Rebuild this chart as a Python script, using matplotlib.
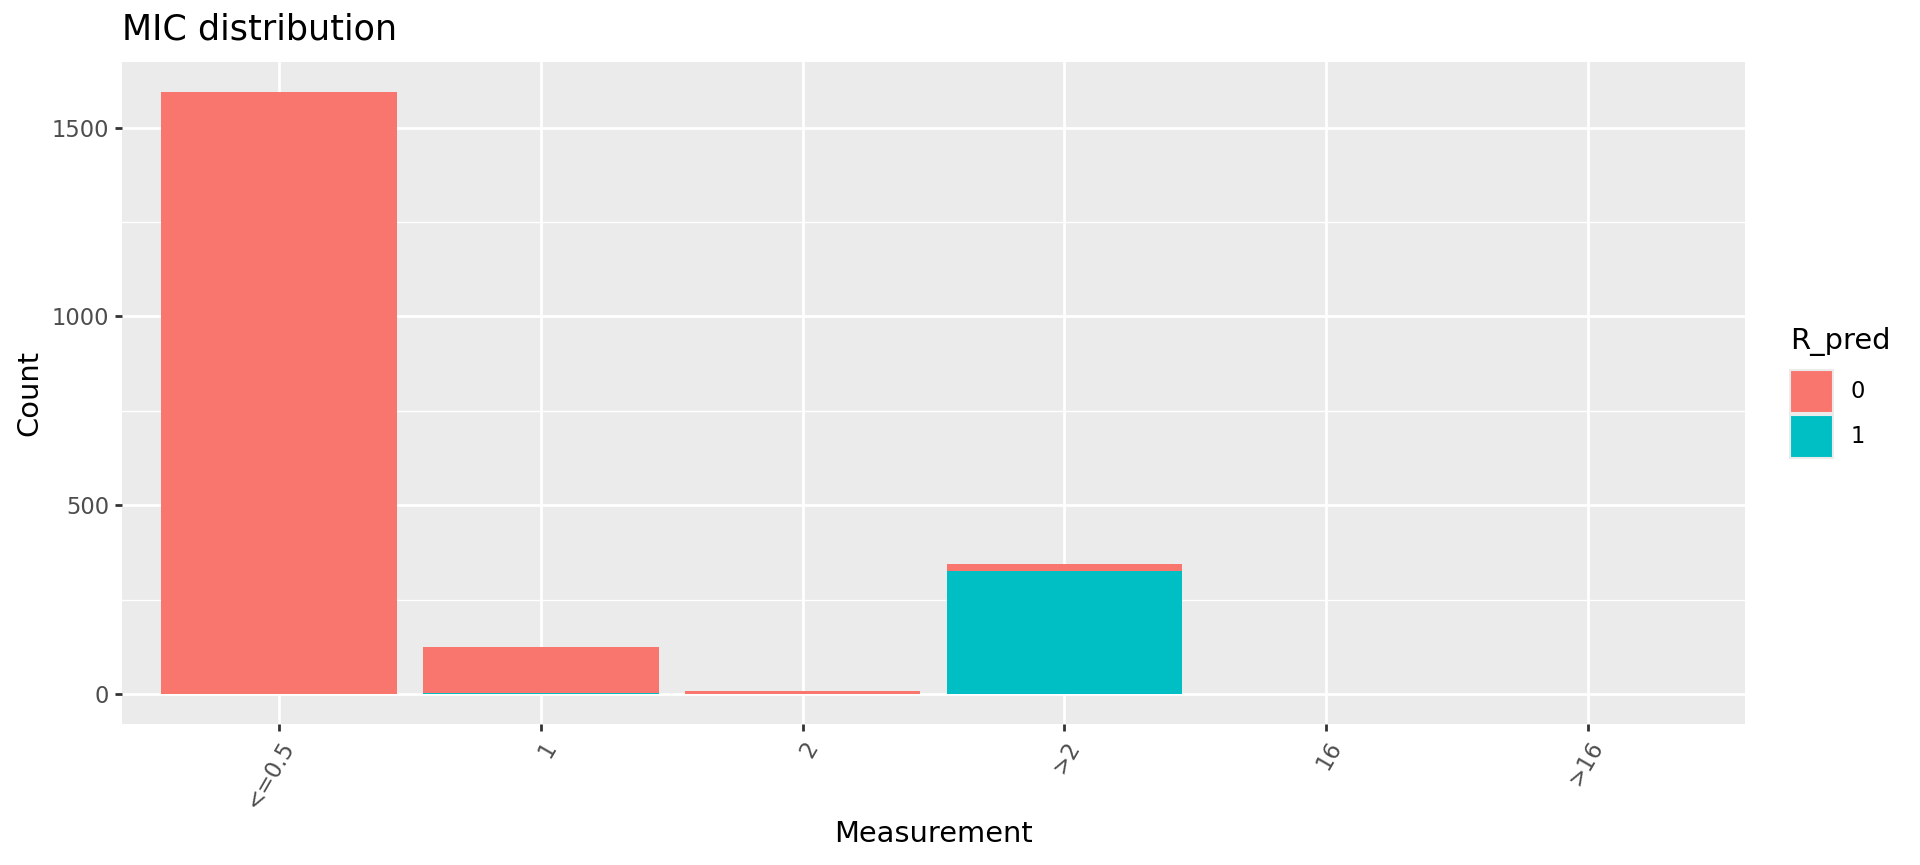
import matplotlib
matplotlib.use("Agg")
import matplotlib.pyplot as plt
from matplotlib.patches import Rectangle
import numpy as np

categories = ['<=0.5', '1', '2', '>2', '16', '>16']
count_pred0 = [1594, 121, 8, 19, 0, 0]
count_pred1 = [0, 3, 0, 325, 0, 0]
legend_labels = ['0', '1']
colors = ['#F8766D', '#00BFC4']

W, H = 1920, 865
fig = plt.figure(figsize=(W / 100, H / 100), dpi=100)
L, R, T, B = 122, 1745, 62, 724
ax = fig.add_axes([L / W, 1 - B / H, (R - L) / W, (B - T) / H])
ax.set_facecolor('#EBEBEB')

x = np.arange(len(categories))
p1 = np.array(count_pred1)
p0 = np.array(count_pred0)
ax.bar(x, p1, width=0.9, color=colors[1], zorder=3)
ax.bar(x, p0, width=0.9, bottom=p1, color=colors[0], zorder=3)

top = (p0 + p1).max()
ax.set_ylim(-0.05 * top, top * 1.05)
ax.set_xlim(-0.6, len(categories) - 0.4)

ax.set_yticks([0, 500, 1000, 1500])
ax.set_yticks([250, 750, 1250], minor=True)
ax.set_xticks(x)
ax.set_xticklabels(categories, rotation=60, ha='right', va='top', rotation_mode='anchor')

ax.grid(which='major', color='white', linewidth=2.0, zorder=0)
ax.grid(which='minor', axis='y', color='white', linewidth=1.0, zorder=0)
ax.set_axisbelow(True)
for s in ax.spines.values():
    s.set_visible(False)
ax.tick_params(axis='both', which='major', length=5.2, width=2.0, color='#333333',
               labelsize=16.3, labelcolor='#4D4D4D', pad=4.2)
ax.tick_params(which='minor', length=0)

ax.set_xlabel('Measurement', fontsize=20.8)
ax.set_ylabel('Count', fontsize=20.8)
ax.xaxis.set_label_coords(0.5, -(834 - B) / (B - T), transform=ax.transAxes)
ax.yaxis.set_label_coords(-(L - 29) / (R - L), 0.5, transform=ax.transAxes)
ax.xaxis.label.set_va('center')
ax.yaxis.label.set_va('center')

fig.text(L / W, 1 - 29 / H, 'MIC distribution', fontsize=25.2, ha='left', va='center')

# legend
fig.text(1790 / W, 1 - 341 / H, 'R_pred', fontsize=20.8, ha='left', va='center')
key_w, key_h = 43, 43
key_tops = [370, 415]
for lab, col, kt in zip(legend_labels, colors, key_tops):
    fig.add_artist(Rectangle((1790 / W, 1 - (kt + key_h) / H), key_w / W, key_h / H,
                             transform=fig.transFigure, facecolor=col,
                             edgecolor='#EBEBEB', linewidth=1.5))
    fig.text(1851 / W, 1 - (kt + key_h / 2) / H, lab, fontsize=16.3, ha='left', va='center')

fig.savefig('out.png', dpi=100)
